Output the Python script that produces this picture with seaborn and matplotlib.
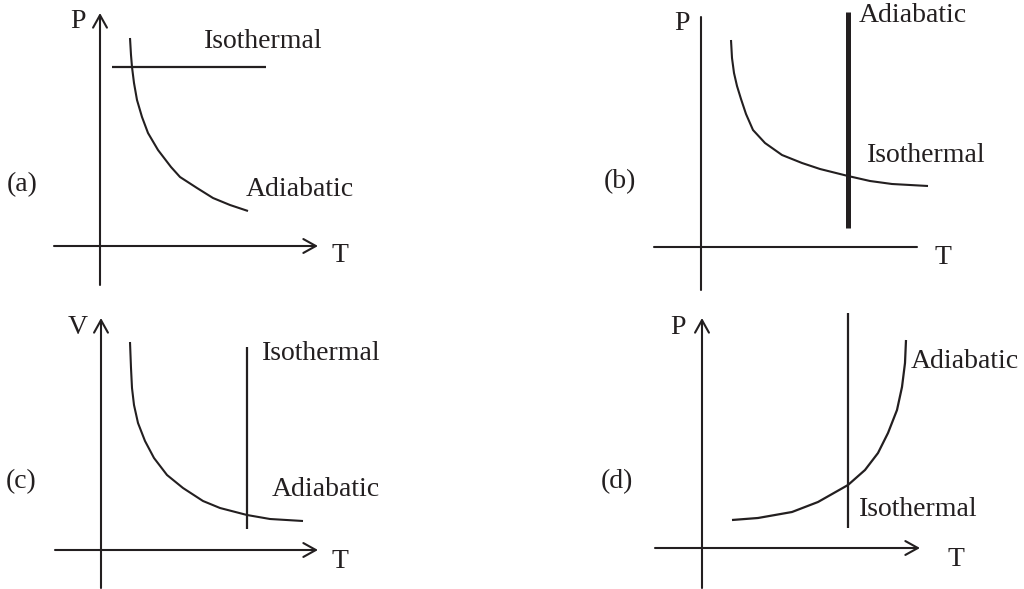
import matplotlib
matplotlib.use("Agg")
import matplotlib.pyplot as plt
import pandas as pd
import seaborn as sns

sns.set_theme(style="white")
plt.rcParams["font.family"] = ["Liberation Serif", "DejaVu Serif"]

INK = "#231f20"

# readings, in page pixels (x to the right, y downwards)
# (a) P-T, horizontal isothermal, falling adiabatic
a_adiab_x = [130, 131, 132, 134, 137, 142, 148, 158, 171, 180, 197, 213, 230, 248]
a_adiab_y = [38, 55, 67, 83, 100, 117, 133, 150, 167, 177, 188, 198, 205, 211]
a_iso_x = [112, 266]
a_iso_y = [67, 67]

# (b) P-T, thick vertical adiabatic, falling isothermal
b_curve_x = [731, 732, 734, 737, 741, 746, 753, 765, 782, 802, 820, 848, 870, 892, 928]
b_curve_y = [40, 58, 73, 86, 99, 114, 130, 143, 155, 163, 169, 176, 181, 184, 186]
b_vert_x = [848, 848]
b_vert_y = [12, 228]

# (c) V-T, vertical isothermal, falling adiabatic
c_curve_x = [130, 131, 132, 134, 138, 145, 154, 167, 183, 203, 220, 247, 270, 303]
c_curve_y = [342, 368, 388, 405, 423, 441, 458, 475, 488, 501, 508, 515, 519, 521]
c_vert_x = [247, 247]
c_vert_y = [347, 529]

# (d) P-T, vertical isothermal, rising adiabatic
d_curve_x = [732, 758, 792, 818, 848, 865, 878, 888, 897, 902, 905, 906]
d_curve_y = [520, 518, 512, 502, 485, 470, 453, 433, 410, 387, 363, 340]
d_vert_x = [848, 848]
d_vert_y = [313, 528]

# axes of each small diagram: T axis (x0, x1, y), vertical axis (x, y0, y1)
panels = ["(a)", "(b)", "(c)", "(d)"]
t_axes = [(54, 318, 246), (654, 917, 247), (55, 318, 550), (655, 920, 548)]
p_axes = [(100, 285, 13), (701, 290, 17), (101, 588, 318), (702, 588, 318)]
has_arrows = [True, False, True, True]

labels = [
    ("P", 78, 22), ("T", 340, 256), ("Isothermal", 204, 42), ("Adiabatic", 246, 190), ("(a)", 7, 185),
    ("P", 682, 23), ("T", 943, 257), ("Adiabatic", 859, 15), ("Isothermal", 867, 155), ("(b)", 604, 182),
    ("V", 78, 328), ("T", 340, 561), ("Isothermal", 262, 353), ("Adiabatic", 272, 490), ("(c)", 6, 482),
    ("P", 678, 327), ("T", 956, 559), ("Adiabatic", 911, 362), ("Isothermal", 859, 510), ("(d)", 601, 482),
]

fig = plt.figure(figsize=(10.24, 5.89), dpi=100)
ax = fig.add_axes([0, 0, 1, 1])
ax.set_xlim(0, 1024)
ax.set_ylim(589, 0)
ax.axis("off")

curves = [
    (a_adiab_x, a_adiab_y, 1.5), (a_iso_x, a_iso_y, 1.6),
    (b_curve_x, b_curve_y, 1.5), (b_vert_x, b_vert_y, 3.6),
    (c_curve_x, c_curve_y, 1.5), (c_vert_x, c_vert_y, 1.6),
    (d_curve_x, d_curve_y, 1.6), (d_vert_x, d_vert_y, 1.6),
]
for xs, ys, lw in curves:
    d = pd.DataFrame({"x": xs, "y": ys})
    sns.lineplot(data=d, x="x", y="y", sort=False, estimator=None, color=INK,
                 lw=lw, ax=ax, solid_capstyle="butt", solid_joinstyle="round")

for (tx0, tx1, ty), (px, py0, py1), arrow in zip(t_axes, p_axes, has_arrows):
    style = "->,head_length=0.45,head_width=0.25" if arrow else "-"
    ax.annotate("", xy=(tx1, ty), xytext=(tx0, ty),
                arrowprops=dict(arrowstyle=style, color=INK, lw=1.5,
                                shrinkA=0, shrinkB=0, mutation_scale=20))
    ax.annotate("", xy=(px, py1), xytext=(px, py0),
                arrowprops=dict(arrowstyle=style, color=INK, lw=1.5,
                                shrinkA=0, shrinkB=0, mutation_scale=20))

for txt, x, y in labels:
    if len(txt) == 1:
        ax.text(x, y, txt, ha="center", va="center", fontsize=20, color=INK)
    else:
        ax.text(x, y, txt, ha="left", va="center", fontsize=20, color=INK)

ax.set_xlabel("")
ax.set_ylabel("")
fig.savefig("out.png", dpi=100, facecolor="white")
